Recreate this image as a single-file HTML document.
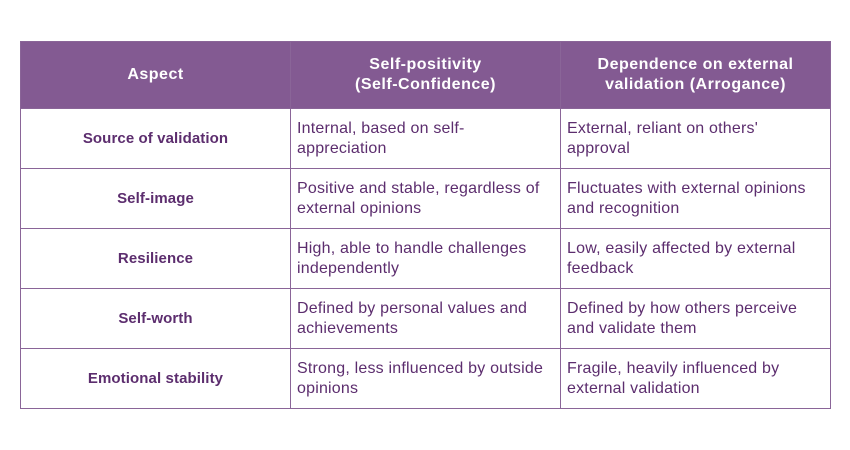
<!DOCTYPE html>
<html><head><meta charset="utf-8"><style>
body{margin:0;width:850px;height:450px;background:#fff;font-family:"Liberation Sans",sans-serif;}
table{position:absolute;left:20px;top:41px;border-collapse:collapse;table-layout:fixed;width:810px;}
td,th{border:1px solid #8a6598;font-size:16px;line-height:20px;color:#5c2d6e;letter-spacing:0.2px;}
th{background:#835a92;color:#fff;font-weight:bold;height:66px;text-align:center;padding:0 4px;letter-spacing:0.5px;}
td{height:59px;padding:0 6px;vertical-align:middle;}
td.a{text-align:center;font-weight:bold;font-size:15px;letter-spacing:0.1px;}
</style></head><body>
<table>
<colgroup><col style="width:270px"><col style="width:270px"><col style="width:270px"></colgroup>
<tr><th>Aspect</th><th>Self-positivity<br>(Self-Confidence)</th><th>Dependence on external<br>validation (Arrogance)</th></tr>
<tr><td class="a">Source of validation</td><td>Internal, based on self-<br>appreciation</td><td>External, reliant on others'<br>approval</td></tr>
<tr><td class="a">Self-image</td><td>Positive and stable, regardless of<br>external opinions</td><td>Fluctuates with external opinions<br>and recognition</td></tr>
<tr><td class="a">Resilience</td><td>High, able to handle challenges<br>independently</td><td>Low, easily affected by external<br>feedback</td></tr>
<tr><td class="a">Self-worth</td><td>Defined by personal values and<br>achievements</td><td>Defined by how others perceive<br>and validate them</td></tr>
<tr><td class="a">Emotional stability</td><td>Strong, less influenced by outside<br>opinions</td><td>Fragile, heavily influenced by<br>external validation</td></tr>
</table>
</body></html>
